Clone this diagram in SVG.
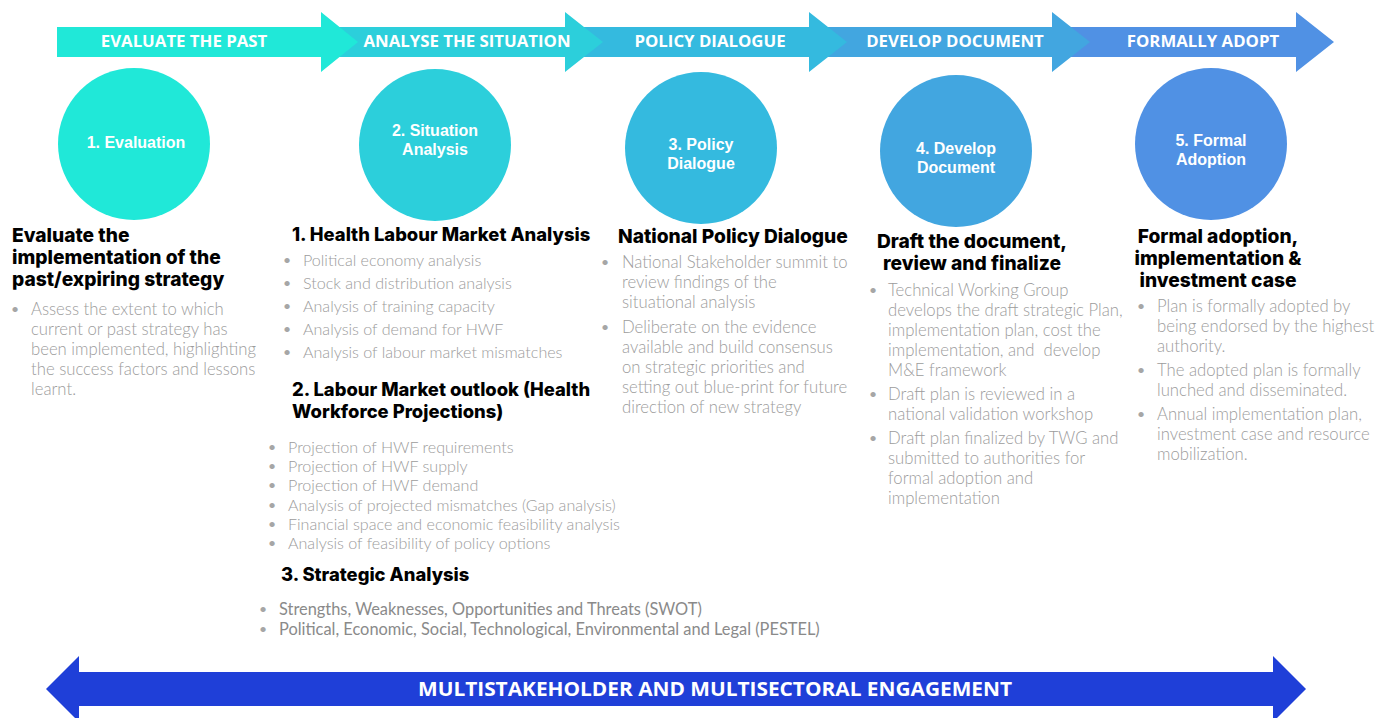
<svg xmlns="http://www.w3.org/2000/svg" width="1377" height="718" viewBox="0 0 1377 718">
<style>
.lbl{font-family:"Open Sans","Liberation Sans",sans-serif;font-weight:700;font-size:16.8px;fill:#fff;text-anchor:middle}
.big{font-family:"Open Sans","Liberation Sans",sans-serif;font-weight:700;font-size:20px;fill:#fff;text-anchor:middle}
.ct{font-family:"Liberation Sans",Arial,sans-serif;font-weight:700;font-size:16px;fill:#fff;text-anchor:middle}
.hd{font-family:Inter,"Liberation Sans",sans-serif;font-weight:800;font-size:19.2px;fill:#000}
.h2{font-size:18.4px}
.bd{font-family:Lato,"Liberation Sans",sans-serif;font-weight:300;font-size:16.7px;fill:#9c9c9c}
.sm{font-family:Lato,"Liberation Sans",sans-serif;font-weight:300;font-size:16.1px;fill:#9c9c9c}
.sw{font-family:Lato,"Liberation Sans",sans-serif;font-weight:400;font-size:16.4px;fill:#8a8a8a}
.bu{font-family:Lato,"Liberation Sans",sans-serif;font-weight:400;font-size:14px;fill:#a6a6a6}
.mid{text-anchor:middle}
</style>
<rect width="1377" height="718" fill="#fff"/>
<g id="connectors">
<polygon id="arrow5" points="1052,27 1296,27 1296,12 1334,42 1296,72 1296,57 1052,57" fill="#5091e4"/>
<polygon id="arrow4" points="809,27 1052,27 1052,12 1090,42 1052,72 1052,57 809,57" fill="#42a6e0"/>
<polygon id="arrow3" points="565,27 809,27 809,12 847,42 809,72 809,57 565,57" fill="#34badf"/>
<polygon id="arrow2" points="321,27 565,27 565,12 603,42 565,72 565,57 321,57" fill="#2ccfdb"/>
<polygon id="arrow1" points="57,27 321,27 321,12 358,42 321,72 321,57 57,57" fill="#20e8d8"/>
<polygon id="engagement" points="46,689 79,656 79,672 1273,672 1273,656 1306,689 1273,722 1273,706 79,706 79,722" fill="#1f3fd8"/>
</g>
<g id="arrow-labels">
<text class="lbl" x="184" y="47">EVALUATE THE PAST</text>
<text class="lbl" x="467" y="47">ANALYSE THE SITUATION</text>
<text class="lbl" x="710" y="47">POLICY DIALOGUE</text>
<text class="lbl" x="955" y="47">DEVELOP DOCUMENT</text>
<text class="lbl" x="1203" y="47">FORMALLY ADOPT</text>
<text class="big" x="715" y="696" textLength="594" lengthAdjust="spacingAndGlyphs">MULTISTAKEHOLDER AND MULTISECTORAL ENGAGEMENT</text>
</g>
<g id="node1">
<circle cx="134" cy="144" r="76" fill="#20e8d8"/>
<text class="ct" x="136" y="148">1. Evaluation</text>
<text class="hd" x="12" y="242">Evaluate the</text>
<text class="hd" x="12" y="264">implementation of the</text>
<text class="hd" x="12" y="286">past/expiring strategy</text>
<text class="bu" x="11" y="314">•</text>
<text class="bd" x="31" y="315">Assess the extent to which</text>
<text class="bd" x="31" y="335">current or past strategy has</text>
<text class="bd" x="31" y="355">been implemented, highlighting</text>
<text class="bd" x="31" y="375">the success factors and lessons</text>
<text class="bd" x="31" y="395">learnt.</text>
</g>
<g id="node2">
<circle cx="435" cy="145" r="76" fill="#2ccfdb"/>
<text class="ct" x="435" y="136"><tspan x="435">2. Situation</tspan><tspan x="435" dy="19">Analysis</tspan></text>
<text class="hd h2" x="292" y="241">1. Health Labour Market Analysis</text>
<g class="sm">
<text class="bu" x="283" y="265">•</text><text x="303" y="266">Political economy analysis</text>
<text class="bu" x="283" y="288">•</text><text x="303" y="289">Stock and distribution analysis</text>
<text class="bu" x="283" y="311">•</text><text x="303" y="312">Analysis of training capacity</text>
<text class="bu" x="283" y="334">•</text><text x="303" y="335">Analysis of demand for HWF</text>
<text class="bu" x="283" y="357">•</text><text x="303" y="358">Analysis of labour market mismatches</text>
</g>
<text class="hd h2" x="292" y="396">2. Labour Market outlook (Health</text>
<text class="hd h2" x="292" y="418">Workforce Projections)</text>
<g class="sm">
<text class="bu" x="268" y="452">•</text><text x="288" y="453">Projection of HWF requirements</text>
<text class="bu" x="268" y="471">•</text><text x="288" y="472">Projection of HWF supply</text>
<text class="bu" x="268" y="490">•</text><text x="288" y="491">Projection of HWF demand</text>
<text class="bu" x="268" y="510">•</text><text x="288" y="511">Analysis of projected mismatches (Gap analysis)</text>
<text class="bu" x="268" y="529">•</text><text x="288" y="530">Financial space and economic feasibility analysis</text>
<text class="bu" x="268" y="548">•</text><text x="288" y="549">Analysis of feasibility of policy options</text>
</g>
<text class="hd h2" x="281" y="581">3. Strategic Analysis</text>
<g class="sw">
<text class="bu" x="259" y="614">•</text><text x="279" y="615">Strengths, Weaknesses, Opportunities and Threats (SWOT)</text>
<text class="bu" x="259" y="634">•</text><text x="279" y="635">Political, Economic, Social, Technological, Environmental and Legal (PESTEL)</text>
</g>
</g>
<g id="node3">
<circle cx="701" cy="148" r="76" fill="#34badf"/>
<text class="ct" x="701" y="150"><tspan x="701">3. Policy</tspan><tspan x="701" dy="19">Dialogue</tspan></text>
<text class="hd" x="618" y="243">National Policy Dialogue</text>
<g class="bd">
<text class="bu" x="601" y="267">•</text><text x="622" y="268">National Stakeholder summit to</text>
<text x="622" y="288">review findings of the</text>
<text x="622" y="308">situational analysis</text>
<text class="bu" x="601" y="332">•</text><text x="622" y="333">Deliberate on the evidence</text>
<text x="622" y="353">available and build consensus</text>
<text x="622" y="373">on strategic priorities and</text>
<text x="622" y="393">setting out blue-print for future</text>
<text x="622" y="413">direction of new strategy</text>
</g>
</g>
<g id="node4">
<circle cx="956" cy="151" r="76" fill="#42a6e0"/>
<text class="ct" x="956" y="154"><tspan x="956">4. Develop</tspan><tspan x="956" dy="18.5">Document</tspan></text>
<text class="hd mid" x="972" y="248">Draft the document,</text>
<text class="hd mid" x="972" y="270">review and finalize</text>
<g class="bd">
<text class="bu" x="869" y="295">•</text><text x="888" y="296">Technical Working Group</text>
<text x="888" y="316">develops the draft strategic Plan,</text>
<text x="888" y="336">implementation plan, cost the</text>
<text x="888" y="356" xml:space="preserve">implementation, and  develop</text>
<text x="888" y="376">M&amp;E framework</text>
<text class="bu" x="869" y="399">•</text><text x="888" y="400">Draft plan is reviewed in a</text>
<text x="888" y="420">national validation workshop</text>
<text class="bu" x="869" y="443">•</text><text x="888" y="444">Draft plan finalized by TWG and</text>
<text x="888" y="464">submitted to authorities for</text>
<text x="888" y="484">formal adoption and</text>
<text x="888" y="504">implementation</text>
</g>
</g>
<g id="node5">
<circle cx="1211" cy="144" r="76" fill="#5091e4"/>
<text class="ct" x="1211" y="146"><tspan x="1211">5. Formal</tspan><tspan x="1211" dy="19">Adoption</tspan></text>
<text class="hd mid" x="1218" y="243">Formal adoption,</text>
<text class="hd mid" x="1218" y="265">implementation &amp;</text>
<text class="hd mid" x="1218" y="287">investment case</text>
<g class="bd">
<text class="bu" x="1137" y="311">•</text><text x="1157" y="312">Plan is formally adopted by</text>
<text x="1157" y="332">being endorsed by the highest</text>
<text x="1157" y="352">authority.</text>
<text class="bu" x="1137" y="375">•</text><text x="1157" y="376">The adopted plan is formally</text>
<text x="1157" y="396">lunched and disseminated.</text>
<text class="bu" x="1137" y="419">•</text><text x="1157" y="420">Annual implementation plan,</text>
<text x="1157" y="440">investment case and resource</text>
<text x="1157" y="460">mobilization.</text>
</g>
</g>
</svg>
